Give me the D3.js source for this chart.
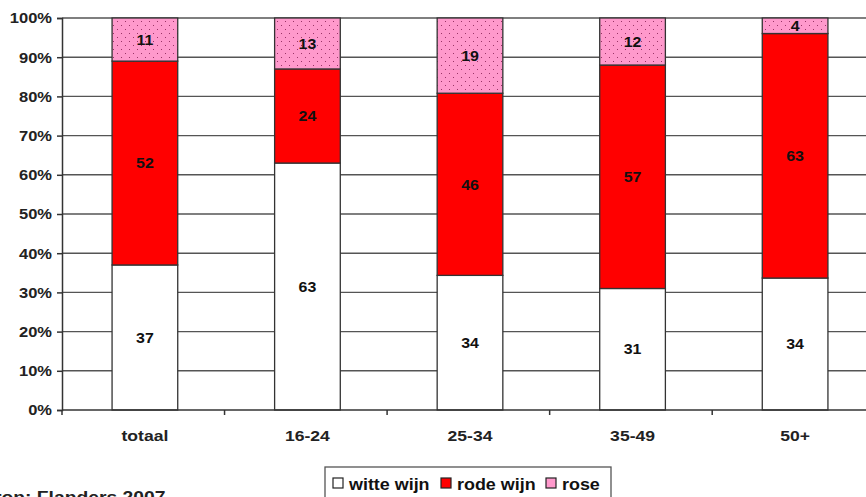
<!DOCTYPE html>
<html>
<head>
<meta charset="utf-8">
<script src="https://cdn.jsdelivr.net/npm/d3@7"></script>
<style>
  html, body { margin: 0; padding: 0; background: #fff; overflow: hidden; }
  svg { display: block; font-family: "Liberation Sans", Arial, sans-serif; }
</style>
</head>
<body>
<svg id="chart" width="866" height="497"></svg>
<script>
// Wine preference by age group (percent of respondents)
const categories = ["totaal", "16-24", "25-34", "35-49", "50+"];
const witteWijn = [37, 63, 34, 31, 34];
const rodeWijn  = [52, 24, 46, 57, 63];
const rose      = [11, 13, 19, 12, 4];
const seriesNames = ["witte wijn", "rode wijn", "rose"];
const yTicks = [0, 10, 20, 30, 40, 50, 60, 70, 80, 90, 100];

const svg = d3.select("#chart");
const margin = { left: 62, top: 18, right: -12, bottom: 87 };
const W = 866, H = 497;

// text is drawn slightly wide, like the original export
function wideText(sel, sx) {
  sel.each(function () {
    const t = d3.select(this);
    const x = +t.attr("x") || 0, y = +t.attr("y") || 0;
    t.attr("x", null).attr("y", null)
      .attr("transform", `translate(${x},${y}) scale(${sx},1)`);
  });
  return sel;
}

// pink fill with a fine dot pattern
const defs = svg.append("defs");
const pat = defs.append("pattern")
  .attr("id", "dots").attr("width", 8).attr("height", 8)
  .attr("patternUnits", "userSpaceOnUse");
pat.append("rect").attr("width", 8).attr("height", 8).attr("fill", "#ff99cc");
pat.append("rect").attr("x", 1).attr("y", 1).attr("width", 1).attr("height", 1).attr("fill", "#9a3366");
pat.append("rect").attr("x", 5).attr("y", 5).attr("width", 1).attr("height", 1).attr("fill", "#9a3366");

const colors = ["#ffffff", "#ff0000", "url(#dots)"];
const legendColors = ["#ffffff", "#ff0000", "#ff99cc"];

const x = d3.scaleBand().domain(categories)
  .range([margin.left, W - margin.right]).paddingInner(0.596).paddingOuter(0.308);
const y = d3.scaleLinear().domain([0, 100]).range([H - margin.bottom, margin.top]);

// gridlines
svg.append("g").selectAll("line").data(yTicks.slice(1)).join("line")
  .attr("x1", margin.left).attr("x2", W)
  .attr("y1", d => y(d)).attr("y2", d => y(d))
  .attr("stroke", "#555").attr("stroke-width", 1.4);

// stacked data normalised to 100%
const rows = categories.map((c, i) => {
  const vals = [witteWijn[i], rodeWijn[i], rose[i]];
  const total = d3.sum(vals);
  let acc = 0;
  return vals.map((v, s) => {
    const y0 = acc / total * 100;
    acc += v;
    return { cat: c, s, v, y0, y1: acc / total * 100 };
  });
}).flat();

svg.append("g").selectAll("rect").data(rows).join("rect")
  .attr("x", d => x(d.cat))
  .attr("width", x.bandwidth())
  .attr("y", d => y(d.y1))
  .attr("height", d => y(d.y0) - y(d.y1))
  .attr("fill", d => colors[d.s])
  .attr("stroke", "#333").attr("stroke-width", 1.3);

svg.append("g").selectAll("text").data(rows).join("text")
  .attr("x", d => x(d.cat) + x.bandwidth() / 2)
  .attr("y", d => y((d.y0 + d.y1) / 2))
  .attr("dy", "0.36em")
  .attr("text-anchor", "middle")
  .attr("font-size", 14.5).attr("font-weight", "bold").attr("fill", "#111")
  .text(d => d.v)
  .call(wideText, 1.1);

// y axis
const yAxis = svg.append("g").attr("transform", `translate(${margin.left},0)`)
  .call(d3.axisLeft(y).tickValues(yTicks).tickFormat(d => d + "%").tickSize(5).tickPadding(5));
yAxis.select(".domain").attr("stroke", "#333").attr("stroke-width", 1.5);
yAxis.selectAll(".tick line").attr("stroke", "#333").attr("stroke-width", 1.5);
yAxis.selectAll("text").attr("font-size", 15).attr("font-weight", "bold")
  .attr("fill", "#222").attr("font-family", "Liberation Sans, Arial, sans-serif")
  .attr("x", -10).attr("y", 0)
  .call(wideText, 1.1);

// x axis baseline with tick marks between groups
const base = y(0);
svg.append("line").attr("x1", margin.left).attr("x2", W)
  .attr("y1", base).attr("y2", base).attr("stroke", "#333").attr("stroke-width", 1.5);
const step = x.step();
const sep = d3.range(categories.length + 1).map(i => margin.left + i * step);
svg.append("g").selectAll("line").data(sep).join("line")
  .attr("x1", d => d).attr("x2", d => d)
  .attr("y1", base).attr("y2", base + 5)
  .attr("stroke", "#333").attr("stroke-width", 1.5);

svg.append("g").selectAll("text").data(categories).join("text")
  .attr("x", d => x(d) + x.bandwidth() / 2)
  .attr("y", 441)
  .attr("text-anchor", "middle")
  .attr("font-size", 15).attr("font-weight", "bold").attr("fill", "#222")
  .text(d => d)
  .call(wideText, 1.17);

// legend
const lg = svg.append("g");
lg.append("rect").attr("x", 325).attr("y", 467).attr("width", 286).attr("height", 40)
  .attr("fill", "#fff").attr("stroke", "#555").attr("stroke-width", 1.3);
const items = [
  { x: 333, tx: 349 },
  { x: 441, tx: 457 },
  { x: 546, tx: 562 }
];
items.forEach((it, i) => {
  lg.append("rect").attr("x", it.x).attr("y", 478).attr("width", 10).attr("height", 10)
    .attr("fill", legendColors[i]).attr("stroke", "#222").attr("stroke-width", 1.2);
  lg.append("text").attr("x", it.tx).attr("y", 490)
    .attr("font-size", 16).attr("font-weight", "bold").attr("fill", "#111")
    .text(seriesNames[i])
    .call(wideText, 1.12);
});

// source note
svg.append("text").attr("x", -20).attr("y", 503)
  .attr("font-size", 16.5).attr("font-weight", "bold").attr("fill", "#222")
  .text("Bron: Flanders 2007")
  .call(wideText, 1.17);
</script>
</body>
</html>
